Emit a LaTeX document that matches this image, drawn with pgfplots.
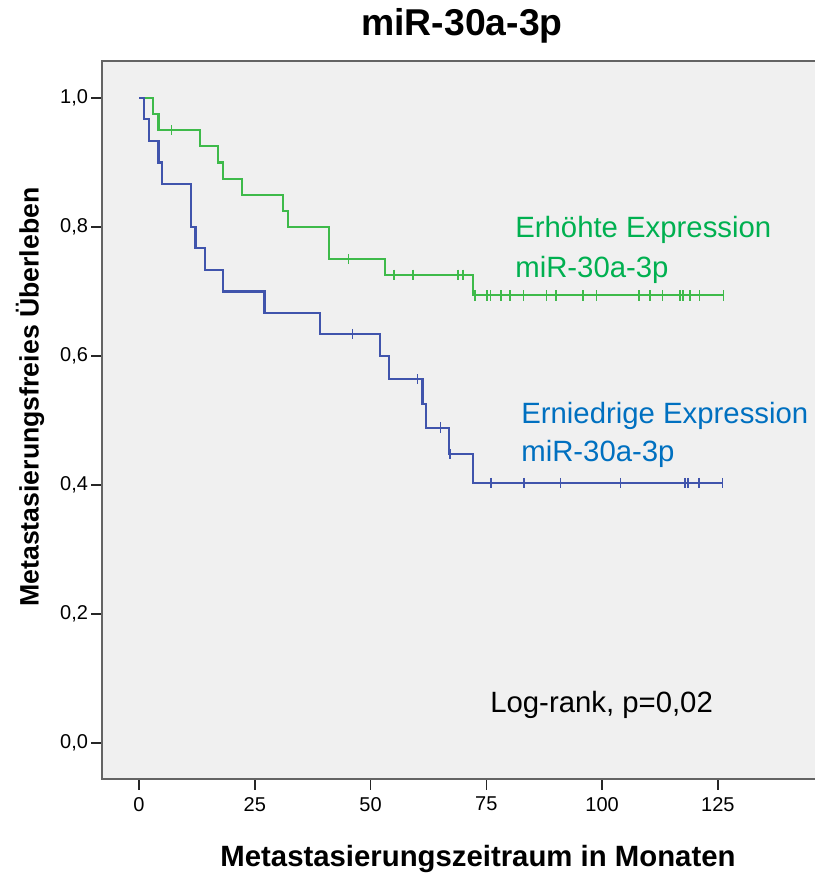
\documentclass[border=0pt]{standalone}
\usepackage{pgfplots}
\pgfplotsset{compat=1.18}
\usepackage{fontspec}
\setmainfont{Liberation Sans}

\definecolor{plotbg}{RGB}{240,240,240}
\definecolor{framegray}{RGB}{100,100,100}
\definecolor{hiline}{RGB}{62,186,74}
\definecolor{loline}{RGB}{64,84,172}
\definecolor{hitext}{RGB}{0,176,80}
\definecolor{lotext}{RGB}{0,112,192}

% Kaplan-Meier steps: time (months), survival
\pgfplotstableread{
t     s
0     1.000
3.1   0.975
4.2   0.950
13.2  0.925
17.1  0.900
18.2  0.875
22.2  0.850
31.0  0.825
32.2  0.800
41.1  0.750
53.1  0.726
72.2  0.694
126.2 0.694
}\histeps
\pgfplotstableread{
t     s
7.0   0.950
45.2  0.750
55.1  0.726
59.1  0.726
68.9  0.726
69.9  0.726
72.6  0.694
75.1  0.694
75.9  0.694
78.2  0.694
80.1  0.694
83.0  0.694
88.0  0.694
90.0  0.694
95.9  0.694
98.8  0.694
108.0 0.694
110.3 0.694
113.0 0.694
116.8 0.694
117.4 0.694
119.0 0.694
121.0 0.694
126.2 0.694
}\hicens
\pgfplotstableread{
t     s
0     1.000
1.1   0.967
2.1   0.933
4.2   0.900
5.0   0.867
11.2  0.800
12.2  0.767
14.2  0.733
18.1  0.700
27.1  0.667
39.1  0.634
52.0  0.600
54.0  0.564
61.2  0.526
62.0  0.489
66.9  0.448
72.2  0.403
126.0 0.403
}\losteps
\pgfplotstableread{
t     s
46.1  0.634
60.1  0.564
65.1  0.489
67.1  0.448
76.0  0.403
83.1  0.403
91.0  0.403
104.0 0.403
117.9 0.403
118.6 0.403
120.9 0.403
126.0 0.403
}\locens

\begin{document}
\begin{tikzpicture}
\path[use as bounding box] (0,0) rectangle (610.5pt,-655.5pt);
\begin{axis}[
  at={(76.5pt,-584.25pt)}, anchor=south west,
  scale only axis, width=536.25pt, height=538.5pt,
  xmin=-7.99, xmax=146.4, ymin=-0.0558, ymax=1.0574,
  axis background/.style={fill=plotbg},
  axis line style={draw=framegray, line width=1.8pt},
  xtick={0,25,50,75,100,125},
  ytick={0,0.2,0.4,0.6,0.8,1.0},
  tick pos=left, tick align=outside,
  major tick length=8pt,
  tick style={black!85, line width=1.1pt},
  /pgf/number format/assume math mode=true,
  yticklabel style={/pgf/number format/fixed, /pgf/number format/fixed zerofill,
    /pgf/number format/precision=1, /pgf/number format/use comma, xshift=1pt},
  ticklabel style={font=\fontsize{15}{18}\selectfont, text=black},
  xticklabel style={yshift=-2pt},
  clip=false,
]
\addplot[const plot, hiline, line width=1.6pt] table[x=t,y=s] {\histeps};
\addplot[only marks, mark=|, mark size=3.9pt, hiline, mark options={line width=1.2pt}] table[x=t,y=s] {\hicens};
\addplot[const plot, loline, line width=1.6pt] table[x=t,y=s] {\losteps};
\addplot[only marks, mark=|, mark size=3.9pt, loline, mark options={line width=1.2pt}] table[x=t,y=s] {\locens};

\node[anchor=base west, text=hitext, font=\fontsize{22}{26}\selectfont, inner sep=0pt] at (axis cs:81.2,0.783) {Erhöhte Expression};
\node[anchor=base west, text=hitext, font=\fontsize{22}{26}\selectfont, inner sep=0pt] at (axis cs:81.2,0.721) {miR-30a-3p};
\node[anchor=base west, text=lotext, font=\fontsize{22}{26}\selectfont, inner sep=0pt] at (axis cs:82.5,0.496) {Erniedrige Expression};
\node[anchor=base west, text=lotext, font=\fontsize{22}{26}\selectfont, inner sep=0pt] at (axis cs:82.5,0.437) {miR-30a-3p};
\node[anchor=base west, text=black, font=\fontsize{22}{26}\selectfont, inner sep=0pt] at (axis cs:75.8,0.048) {Log-rank, p=0,02};
\end{axis}
\node[anchor=base, font=\fontsize{28}{32}\bfseries\selectfont, inner sep=0pt] at (346.5pt,-27pt) {miR-30a-3p};
\node[anchor=base, font=\fontsize{22}{26}\bfseries\selectfont, inner sep=0pt] at (358.5pt,-649.5pt) {Metastasierungszeitraum in Monaten};
\node[rotate=90, anchor=center, font=\fontsize{20}{24}\bfseries\selectfont, inner sep=0pt] at (22.5pt,-297.75pt) {Metastasierungsfreies Überleben};
\end{tikzpicture}
\end{document}
